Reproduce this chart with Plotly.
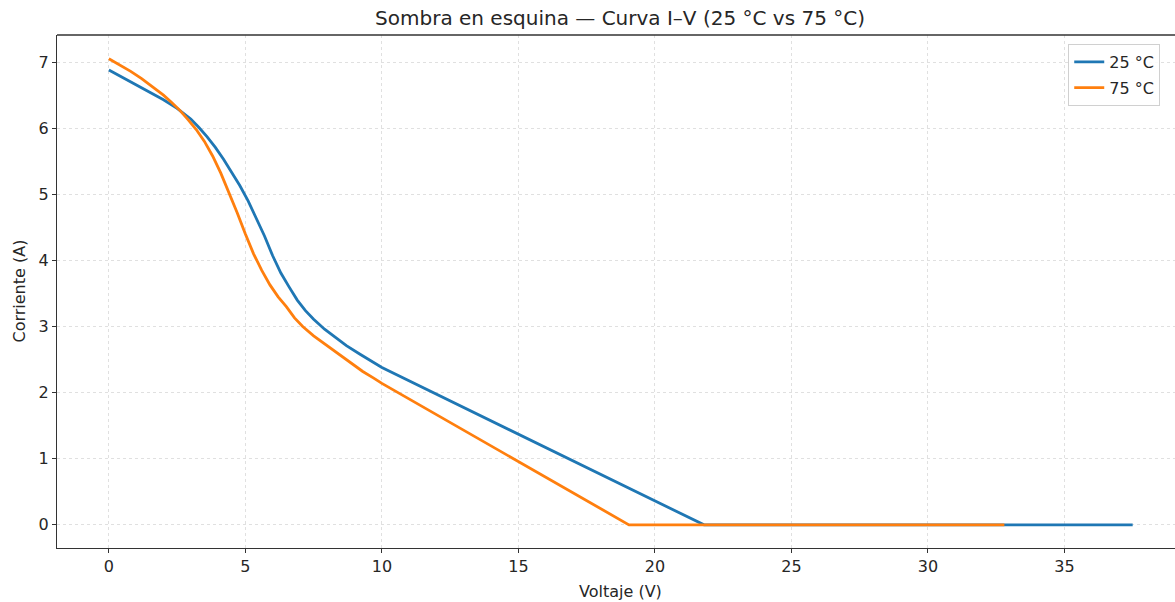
import plotly.graph_objects as go

# 25 °C curve
v25 = [0, 0.5, 1.0, 1.5, 2.0, 2.5, 3.0, 3.3, 3.6, 3.9, 4.2, 4.5, 4.8, 5.1, 5.4,
       5.7, 6.0, 6.3, 6.6, 6.9, 7.2, 7.5, 7.9, 8.3, 8.7, 9.2, 9.6, 10.0, 21.8, 37.5]
i25 = [6.88, 6.77, 6.66, 6.55, 6.43, 6.30, 6.14, 6.01, 5.87, 5.71, 5.53, 5.33, 5.13,
       4.90, 4.64, 4.37, 4.07, 3.81, 3.60, 3.40, 3.24, 3.11, 2.96, 2.83, 2.71, 2.58,
       2.48, 2.38, 0.0, 0.0]

# 75 °C curve
v75 = [0, 0.4, 0.8, 1.2, 1.6, 2.0, 2.3, 2.6, 2.9, 3.2, 3.5, 3.8, 4.1, 4.4, 4.7,
       5.0, 5.3, 5.6, 5.9, 6.2, 6.5, 6.8, 7.1, 7.5, 7.9, 8.3, 8.8, 9.3, 9.7, 10.0,
       19.05, 32.8]
i75 = [7.05, 6.96, 6.86, 6.75, 6.63, 6.50, 6.39, 6.27, 6.13, 5.98, 5.80, 5.58, 5.32,
       5.03, 4.72, 4.40, 4.10, 3.85, 3.63, 3.45, 3.30, 3.13, 3.00, 2.86, 2.74, 2.61,
       2.46, 2.32, 2.22, 2.14, 0.0, 0.0]

x_ticks = [0, 5, 10, 15, 20, 25, 30, 35]
y_ticks = [0, 1, 2, 3, 4, 5, 6, 7]

FONT = "DejaVu Sans"
TXT = "#262626"

fig = go.Figure()
fig.add_trace(go.Scatter(x=v25, y=i25, mode="lines", name="25 °C",
                         line=dict(color="#1f77b4", width=2.8), legendgroup="a"))
fig.add_trace(go.Scatter(x=v75, y=i75, mode="lines", name="75 °C",
                         line=dict(color="#ff7f0e", width=2.8), legendgroup="b"))

fig.update_layout(
    width=1175, height=602,
    margin=dict(l=57, r=0, t=35, b=54),
    paper_bgcolor="white", plot_bgcolor="white",
    font=dict(family=FONT, size=16, color=TXT),
    title=dict(text="Sombra en esquina — Curva I–V (25 °C vs 75 °C)",
               x=0.5036, xref="paper", xanchor="center",
               y=1 - 18 / 602, yref="container", yanchor="middle",
               font=dict(size=20, color=TXT, family=FONT)),
    showlegend=True,
    legend=dict(x=0.9045, xanchor="left", y=1 - 9 / 513, yanchor="top",
                bgcolor="rgba(255,255,255,0.85)", bordercolor="#d0d0d0", borderwidth=1,
                font=dict(size=16, color=TXT, family=FONT),
                tracegroupgap=2, traceorder="grouped"),
)

fig.update_xaxes(range=[-1.9, 39.05], tickvals=x_ticks,
                 showline=True, linecolor="#333", linewidth=1.3, mirror=False,
                 ticks="outside", ticklen=4, tickwidth=1.2, tickcolor="#333",
                 showgrid=True, gridcolor="#e0e0e0", griddash="dot", gridwidth=1,
                 zeroline=False, tickfont=dict(size=16, color=TXT))
fig.update_yaxes(range=[-0.35, 7.41], tickvals=y_ticks,
                 showline=True, linecolor="#333", linewidth=1.3, mirror=False,
                 ticks="outside", ticklen=4, tickwidth=1.2, tickcolor="#333",
                 showgrid=True, gridcolor="#e0e0e0", griddash="dot", gridwidth=1,
                 zeroline=False, tickfont=dict(size=16, color=TXT))

# top spine
fig.add_shape(type="line", xref="paper", yref="paper", x0=0, x1=1, y0=1, y1=1,
              line=dict(color="#333", width=1.3))

# axis titles
fig.add_annotation(text="Voltaje (V)", xref="paper", yref="paper",
                   x=(620 - 57) / 1118, y=-(591 - 548) / 513, xanchor="center", yanchor="middle",
                   showarrow=False, font=dict(size=16, color=TXT, family=FONT))
fig.add_annotation(text="Corriente (A)", xref="paper", yref="paper",
                   x=-(57 - 19) / 1118, y=0.5, xanchor="center", yanchor="middle",
                   textangle=-90, showarrow=False, font=dict(size=16, color=TXT, family=FONT))

fig.write_html("out.html")
